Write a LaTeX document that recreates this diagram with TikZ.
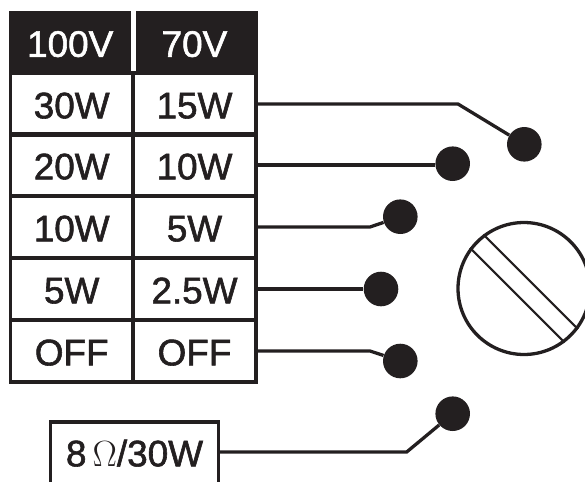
\documentclass[tikz,border=0pt]{standalone}
\usepackage{fontspec}
\setmainfont[FakeBold=1.6]{Liberation Sans}
\definecolor{inkblack}{HTML}{231F20}
\tikzset{
  tapcell/.style={draw=inkblack, line width=0.066cm, text=inkblack, inner sep=0pt,
    minimum width=2.46cm, minimum height=1.24cm, text height=0.58cm,
    font=\fontsize{21}{24}\selectfont},
  headcell/.style={fill=inkblack, text=white, inner sep=0pt,
    minimum width=2.44cm, minimum height=1.26cm, text height=0.58cm,
    font=\fontsize{21}{24}\selectfont},
  tapdot/.style={circle, fill=inkblack, inner sep=0pt, minimum size=0.692cm},
  wire/.style={draw=inkblack, line width=0.066cm},
  slot/.style={draw=inkblack, line width=0.044cm},
}
\begin{document}
\begin{tikzpicture}[x=0.02cm, y=-0.02cm]
  \useasboundingbox (0,0) rectangle (585,481);
  \clip (0,0) rectangle (585,481);
  % table
  \node[tapcell] (a30) at (71.7,104) {30W};
  \node[tapcell] (b15) at (194.5,104) {15W};
  \node[tapcell] (a20) at (71.7,165) {20W};
  \node[tapcell] (b10) at (194.5,165) {10W};
  \node[tapcell] (a10) at (71.7,227) {10W};
  \node[tapcell] (b5) at (194.5,227) {5W};
  \node[tapcell] (a5) at (71.7,289) {5W};
  \node[tapcell] (b25) at (194.5,289) {2.5W};
  \node[tapcell] (aoff) at (71.7,351) {OFF};
  \node[tapcell] (boff) at (194.5,351) {OFF};
  \node[headcell] (a100) at (70.2,42.5) {100V};
  \node[headcell] (b70) at (196.7,42.5) {\kern-0.09cm 70V};
  % speaker box, runs off the bottom
  \node[tapcell, minimum width=3.35cm, minimum height=1.28cm, text height=0.5cm] (spk) at (134.5,454)
    {8\,$\Omega$/30W};
  % terminals
  \node[tapdot] (d1) at (524.3,144.3) {};
  \node[tapdot] (d2) at (452.7,163.7) {};
  \node[tapdot] (d3) at (400.3,216.7) {};
  \node[tapdot] (d4) at (381,289) {};
  \node[tapdot] (d5) at (400.3,361) {};
  \node[tapdot] (d6) at (452.7,413.7) {};
  % wires
  \coordinate (k1) at (458,104);
  \coordinate (k3) at (370,227);
  \coordinate (k5) at (370,351);
  \coordinate (k6) at (406.7,452);
  \draw[wire] (b15.east) -- (k1) -- (d1);
  \draw[wire] (b10.east) -- (d2.west |- b10.east);
  \draw[wire] (b5.east) -- (k3) -- (d3);
  \draw[wire] (b25.east) -- (d4);
  \draw[wire] (boff.east) -- (k5) -- (d5);
  \draw[wire] (spk.east |- k6) -- (k6) -- (d6);
  % screw
  \node[circle, draw=inkblack, line width=0.066cm, inner sep=0pt, minimum size=2.64cm] (dial) at (524,288.5) {};
  \draw[slot] (dial.127) -- (dial.-37);
  \draw[slot] (dial.143) -- (dial.-53);
\end{tikzpicture}
\end{document}
